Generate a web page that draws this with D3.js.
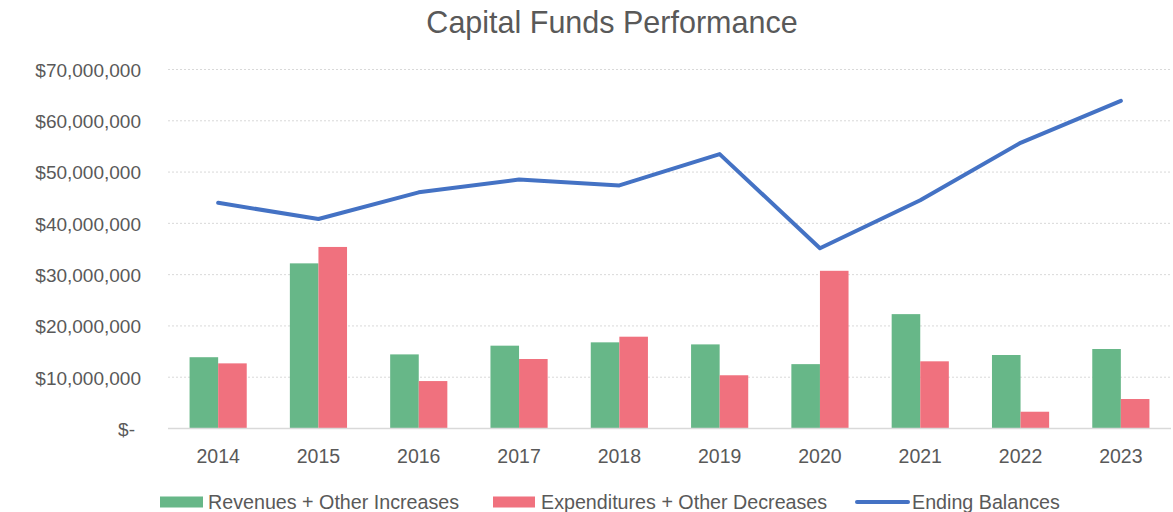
<!DOCTYPE html>
<html>
<head>
<meta charset="utf-8">
<script src="https://cdn.jsdelivr.net/npm/d3@7"></script>
<style>
  html, body { margin: 0; padding: 0; background: #ffffff; }
  svg { display: block; font-family: "Liberation Sans", Arial, sans-serif; }
</style>
</head>
<body>
<svg id="chart" width="1173" height="512"></svg>
<script>
// Fiscal years on the category axis
const years = ["2014", "2015", "2016", "2017", "2018", "2019", "2020", "2021", "2022", "2023"];

// Revenues + Other Increases (USD)
const revenues = [13900000, 32200000, 14450000, 16150000, 16800000, 16400000, 12550000, 22300000, 14330000, 15500000];

// Expenditures + Other Decreases (USD)
const expenditures = [12700000, 35400000, 9250000, 13550000, 17900000, 10380000, 30750000, 13100000, 3270000, 5750000];

// Ending Balances (USD)
const endingBalances = [44000000, 40850000, 46050000, 48550000, 47400000, 53500000, 35150000, 44500000, 55700000, 63900000];

// Value-axis ticks
const yTicks = [0, 10000000, 20000000, 30000000, 40000000, 50000000, 60000000, 70000000];

const seriesNames = ["Revenues + Other Increases", "Expenditures + Other Decreases", "Ending Balances"];
const colors = { rev: "#67b788", exp: "#f0717e", bal: "#4472c4" };
const textColor = "#595959";

const svg = d3.select("#chart");
const plot = { left: 168, right: 1171, top: 69.5, bottom: 428.5 };

const x = d3.scaleBand().domain(years).range([plot.left, plot.right]).paddingInner(0).paddingOuter(0);
const y = d3.scaleLinear().domain([0, 70000000]).range([plot.bottom, plot.top]);

// Bars fill 57% of each category, split into the two series
const groupFrac = 0.57;
const barW = x.bandwidth() * groupFrac / 2;
const groupOffset = (x.bandwidth() - 2 * barW) / 2;

// Title
svg.append("text")
  .attr("x", 612).attr("y", 33)
  .attr("text-anchor", "middle")
  .attr("fill", textColor)
  .style("font-size", "30.5px")
  .text("Capital Funds Performance");

// Dotted horizontal gridlines
svg.append("g").selectAll("line")
  .data(yTicks.filter(d => d > 0))
  .join("line")
  .attr("x1", plot.left).attr("x2", plot.right)
  .attr("y1", d => y(d)).attr("y2", d => y(d))
  .attr("stroke", "#d9d9d9")
  .attr("stroke-width", 1)
  .attr("stroke-dasharray", "2,2");

// Value-axis labels (accounting format)
const fmt = d => d === 0 ? "$-" : "$" + d3.format(",")(d);
const yAxis = d3.axisLeft(y).tickValues(yTicks).tickFormat(fmt).tickSize(0).tickPadding(0);
const yG = svg.append("g").attr("transform", `translate(141,0)`).call(yAxis);
yG.select(".domain").remove();
yG.selectAll("text")
  .attr("fill", textColor)
  .style("font-size", "19px")
  .style("font-family", "Liberation Sans, Arial, sans-serif")
  .attr("dy", "0.36em")
  .attr("dx", d => d === 0 ? -6 : 0);

// Bars
const barG = svg.append("g");
barG.selectAll("rect.rev")
  .data(years)
  .join("rect")
  .attr("class", "rev")
  .attr("x", (d) => x(d) + groupOffset)
  .attr("width", barW)
  .attr("y", (d, i) => y(revenues[i]))
  .attr("height", (d, i) => y(0) - y(revenues[i]))
  .attr("fill", colors.rev);

barG.selectAll("rect.exp")
  .data(years)
  .join("rect")
  .attr("class", "exp")
  .attr("x", (d) => x(d) + groupOffset + barW)
  .attr("width", barW)
  .attr("y", (d, i) => y(expenditures[i]))
  .attr("height", (d, i) => y(0) - y(expenditures[i]))
  .attr("fill", colors.exp);

// Category axis baseline
svg.append("line")
  .attr("x1", plot.left).attr("x2", plot.right)
  .attr("y1", y(0)).attr("y2", y(0))
  .attr("stroke", "#d9d9d9")
  .attr("stroke-width", 1.5);

// Category labels
const xAxis = d3.axisBottom(x).tickSize(0).tickPadding(0);
const xG = svg.append("g").attr("transform", `translate(0,463)`).call(xAxis);
xG.select(".domain").remove();
xG.selectAll("text")
  .attr("fill", textColor)
  .attr("dy", 0)
  .style("font-size", "19.5px")
  .style("font-family", "Liberation Sans, Arial, sans-serif");

// Ending balance line
const line = d3.line()
  .x((d, i) => x(years[i]) + x.bandwidth() / 2)
  .y(d => y(d));
svg.append("path")
  .datum(endingBalances)
  .attr("d", line)
  .attr("fill", "none")
  .attr("stroke", colors.bal)
  .attr("stroke-width", 4)
  .attr("stroke-linejoin", "round")
  .attr("stroke-linecap", "round");

// Legend
const legendY = 502;
const legend = svg.append("g").style("font-size", "19.7px").attr("fill", textColor);

legend.append("rect").attr("x", 160).attr("y", legendY - 5.5).attr("width", 43).attr("height", 11).attr("fill", colors.rev);
legend.append("text").attr("x", 208).attr("y", legendY + 7).text(seriesNames[0]);

legend.append("rect").attr("x", 493).attr("y", legendY - 5.5).attr("width", 42).attr("height", 11).attr("fill", colors.exp);
legend.append("text").attr("x", 541).attr("y", legendY + 7).text(seriesNames[1]);

legend.append("line").attr("x1", 857).attr("x2", 908).attr("y1", legendY).attr("y2", legendY)
  .attr("stroke", colors.bal).attr("stroke-width", 4).attr("stroke-linecap", "round");
legend.append("text").attr("x", 912).attr("y", legendY + 7).text(seriesNames[2]);
</script>
</body>
</html>
